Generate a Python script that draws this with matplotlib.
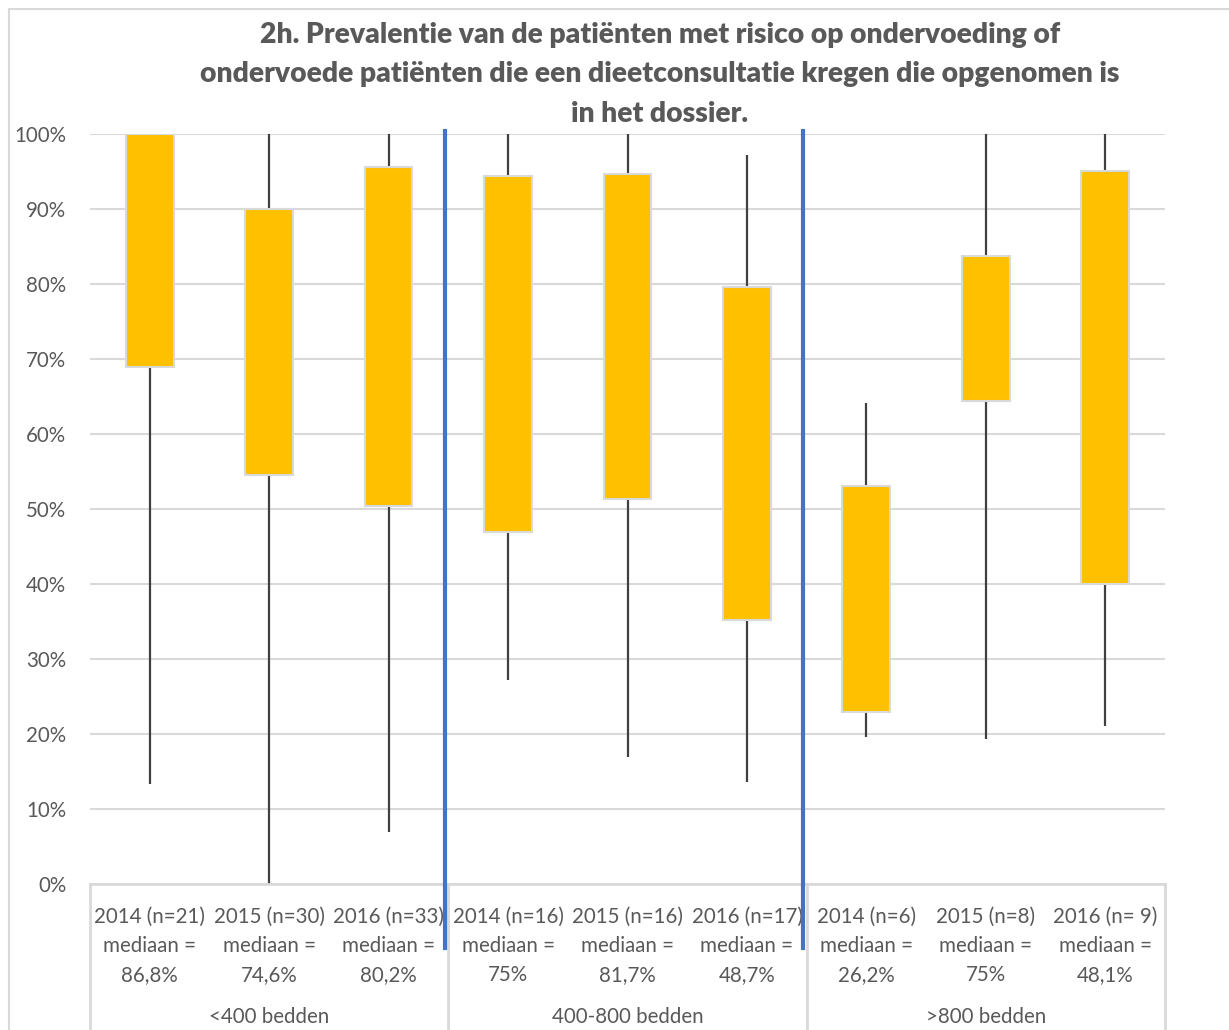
import numpy as np
import matplotlib.pyplot as plt
from matplotlib.patches import Rectangle

plt.rcParams['font.family'] = ['Lato', 'DejaVu Sans']

# per category: whisker min / box bottom (Q1) / box top (Q3) / whisker max, in %
years = ['2014 (n=21)', '2015 (n=30)', '2016 (n=33)',
         '2014 (n=16)', '2015 (n=16)', '2016 (n=17)',
         '2014 (n=6)', '2015 (n=8)', '2016 (n= 9)']
medians = ['86,8%', '74,6%', '80,2%', '75%', '81,7%', '48,7%', '26,2%', '75%', '48,1%']
groups = ['<400 bedden', '400-800 bedden', '>800 bedden']
w_min = [13.3, 0.0, 6.9, 27.2, 16.9, 13.6, 19.6, 19.3, 21.1]
q1 = [69.0, 54.5, 50.4, 46.9, 51.3, 35.2, 22.9, 64.4, 40.0]
q3 = [100.0, 90.0, 95.6, 94.4, 94.7, 79.6, 53.1, 83.7, 95.1]
w_max = [100.0, 100.0, 100.0, 100.0, 100.0, 97.2, 64.1, 100.0, 100.0]

title = ('2h. Prevalentie van de patiënten met risico op ondervoeding of\n'
         'ondervoede patiënten die een dieetconsultatie kregen die opgenomen is\n'
         'in het dossier.')

grey_txt = '#595959'
grid_c = '#d9d9d9'

fig = plt.figure(figsize=(12.29, 10.30), dpi=100)
ax = fig.add_axes([90 / 1229, 146 / 1030, 1075 / 1229, 750 / 1030])

x = np.arange(len(years))
ax.vlines(x, w_min, w_max, color='#404040', lw=1.6, zorder=2)
ax.bar(x, np.array(q3) - np.array(q1), bottom=q1, width=0.4,
       color='#FFC000', edgecolor=grid_c, linewidth=1.5, zorder=3)

ax.set_xlim(-0.5, 8.5)
ax.set_ylim(0, 100)
ax.set_yticks(np.arange(0, 101, 10))
ax.set_yticklabels([f'{v}%' for v in range(0, 101, 10)], fontsize=14.8, color=grey_txt)
ax.tick_params(axis='y', length=0, pad=17)
ax.tick_params(axis='x', length=0)
ax.set_xticks([])
ax.grid(axis='y', color=grid_c, lw=1.5, zorder=0)
for s in ['left', 'right', 'top']:
    ax.spines[s].set_visible(False)
ax.spines['bottom'].set_color(grid_c)
ax.spines['bottom'].set_linewidth(2)

# category table under the axis
tr = ax.get_xaxis_transform()
for xb in [-0.5, 2.5, 5.5, 8.5]:
    ax.plot([xb, xb], [0, -0.2], color=grid_c, lw=2, transform=tr, clip_on=False)
for i, (yr, md) in enumerate(zip(years, medians)):
    ax.text(i, -0.031, f'{yr}\nmediaan =\n{md}', transform=tr, ha='center', va='top',
            fontsize=14.8, color=grey_txt, linespacing=1.56)
for g, name in enumerate(groups):
    ax.text(3 * g + 1, -0.177, name, transform=tr, ha='center', va='center',
            fontsize=14.8, color=grey_txt)

# group separators
for xs in [2.47, 5.47]:
    ax.plot([xs, xs], [1.004, -0.085], color='#4472C4', lw=3, transform=tr,
            clip_on=False, zorder=5)

fig.text(660 / 1229, 1 - 22 / 1030, title, ha='center', va='top', fontsize=20.3,
         fontweight='heavy', color=grey_txt, linespacing=1.64)

fig.patches.append(Rectangle((9 / 1229, -0.1), 1.2, 1 - 9 / 1030 + 0.1,
                             transform=fig.transFigure, fill=False,
                             edgecolor=grid_c, lw=1.5))

fig.savefig('out.png', dpi=100)
